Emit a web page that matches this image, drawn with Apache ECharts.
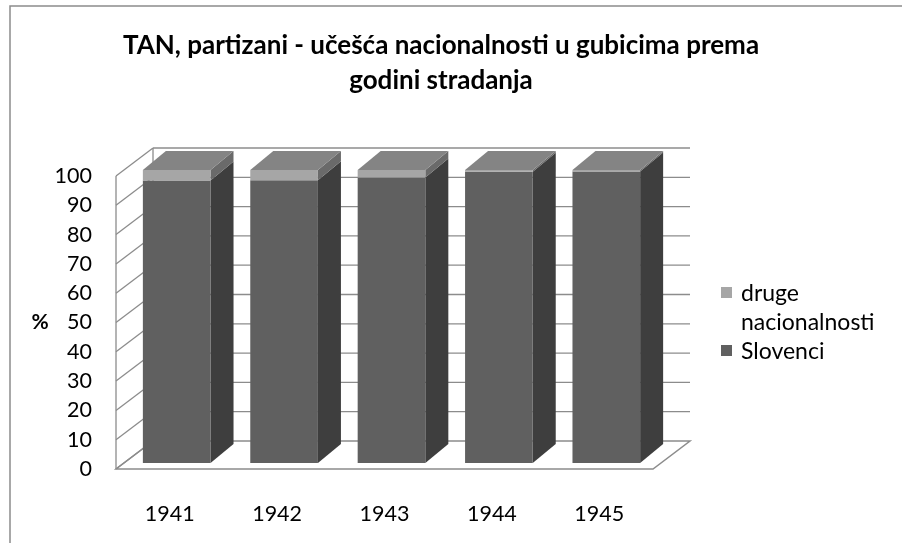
<!DOCTYPE html>
<html>
<head>
<meta charset="utf-8">
<script src="https://cdn.jsdelivr.net/npm/echarts@6/dist/echarts.min.js"></script>
<style>
  html, body { margin: 0; padding: 0; background: #fff; }
  #main { width: 902px; height: 543px; }
</style>
</head>
<body>
<div id="main"></div>
<script>
var years = ['1941', '1942', '1943', '1944', '1945'];
var slovenci = [96.4, 96.5, 97.4, 99.4, 99.5];
var druge = [3.6, 3.5, 2.6, 0.6, 0.5];
var yTicks = [0, 10, 20, 30, 40, 50, 60, 70, 80, 90, 100];

var FONT = 'Lato';
// 3D depth offsets in pixels
var WALL = [37, -28];
var BAR_FRONT = [7, -6];
var BAR_BACK = [30, -25];
var BAR_RATIO = 0.63;
var GRID_COLOR = '#8c8c8c';

var dom = document.getElementById('main');
var myChart = echarts.init(dom, null, { renderer: 'canvas' });

function renderWall(params, api) {
    var v = api.value(1);
    var cs = params.coordSys;
    var y = api.coord([0, v])[1];
    var left = cs.x;
    var right = cs.x + cs.width;
    var ls = { stroke: GRID_COLOR, lineWidth: 1.3, fill: null };
    var children = [];
    if (v === 0) {
        children.push({
            type: 'polygon',
            shape: { points: [[left, y], [right, y], [right + WALL[0], y + WALL[1]], [left + WALL[0], y + WALL[1]]] },
            style: { fill: '#fff', stroke: GRID_COLOR, lineWidth: 1.5 }
        });
        var yTop = api.coord([0, yTicks[yTicks.length - 1]])[1];
        children.push({
            type: 'line',
            shape: { x1: left, y1: y, x2: left, y2: yTop },
            style: ls
        });
        children.push({
            type: 'line',
            shape: { x1: left + WALL[0], y1: y + WALL[1], x2: left + WALL[0], y2: yTop + WALL[1] },
            style: ls
        });
    }
    children.push({
        type: 'line',
        shape: { x1: left, y1: y, x2: left + WALL[0], y2: y + WALL[1] },
        style: ls
    });
    if (v !== 0) {
        children.push({
            type: 'line',
            shape: { x1: left + WALL[0], y1: y + WALL[1], x2: right + WALL[0], y2: y + WALL[1] },
            style: ls
        });
    }
    return { type: 'group', children: children };
}

function barRenderer(front, side, top, isTop) {
    return function (params, api) {
        var i = api.value(0);
        var pLo = api.coord([i, api.value(1)]);
        var pHi = api.coord([i, api.value(2)]);
        var w = api.size([1, 0])[0] * BAR_RATIO;
        var x0 = pLo[0] - w / 2 + BAR_FRONT[0];
        var x1 = x0 + w;
        var yLo = pLo[1] + BAR_FRONT[1];
        var yHi = pHi[1] + BAR_FRONT[1];
        var dx = BAR_BACK[0] - BAR_FRONT[0];
        var dy = BAR_BACK[1] - BAR_FRONT[1];
        var children = [
            {
                type: 'polygon',
                shape: { points: [[x1, yHi], [x1 + dx, yHi + dy], [x1 + dx, yLo + dy], [x1, yLo]] },
                style: { fill: side }
            },
            {
                type: 'rect',
                shape: { x: x0, y: yHi, width: w, height: yLo - yHi },
                style: { fill: front }
            }
        ];
        if (isTop) {
            children.push({
                type: 'polygon',
                shape: { points: [[x0, yHi], [x0 + dx, yHi + dy], [x1 + dx, yHi + dy], [x1, yHi]] },
                style: { fill: top }
            });
        }
        return { type: 'group', children: children };
    };
}

var wallData = yTicks.map(function (v) { return [0, v]; });
var slovData = years.map(function (y, i) { return [i, 0, slovenci[i]]; });
var drugeData = years.map(function (y, i) { return [i, slovenci[i], slovenci[i] + druge[i]]; });

var option = {
    backgroundColor: '#fff',
    animation: false,
    title: {
        text: 'TAN, partizani - učešća nacionalnosti u gubicima prema\ngodini stradanja',
        left: 441,
        top: 28,
        padding: 0,
        textAlign: 'center',
        textStyle: {
            fontFamily: FONT,
            fontSize: 26,
            fontWeight: 'bold',
            color: '#000',
            lineHeight: 35
        }
    },
    grid: {
        left: 116,
        right: 249,
        top: 176,
        bottom: 74
    },
    xAxis: {
        type: 'category',
        data: years,
        axisLine: { show: false },
        axisTick: { show: false },
        splitLine: { show: false },
        axisLabel: {
            margin: 34,
            fontFamily: FONT,
            fontSize: 21.5,
            color: '#000'
        }
    },
    yAxis: {
        type: 'value',
        min: 0,
        max: 100,
        interval: 10,
        name: '%',
        nameLocation: 'middle',
        nameRotate: 0,
        nameGap: 66,
        nameTextStyle: {
            fontFamily: FONT,
            fontSize: 21,
            fontWeight: 'bold',
            color: '#000'
        },
        axisLine: { show: false },
        axisTick: { show: false },
        splitLine: { show: false },
        axisLabel: {
            margin: 24,
            fontFamily: FONT,
            fontSize: 21.5,
            color: '#000'
        }
    },
    graphic: [
        {
            type: 'rect',
            shape: { x: 10, y: 6, width: 1000, height: 1000 },
            style: { fill: null, stroke: '#8c8c8c', lineWidth: 1.5 },
            silent: true
        },
        {
            type: 'group',
            left: 721,
            top: 279,
            children: [
                { type: 'rect', shape: { x: 0, y: 8, width: 11, height: 11 }, style: { fill: '#a6a6a6' } },
                { type: 'text', x: 20, y: 0, style: { text: 'druge\nnacionalnosti', font: '23px ' + FONT, fill: '#000', lineHeight: 29 } },
                { type: 'rect', shape: { x: 0, y: 66, width: 11, height: 11 }, style: { fill: '#606060' } },
                { type: 'text', x: 20, y: 58, style: { text: 'Slovenci', font: '23px ' + FONT, fill: '#000', lineHeight: 29 } }
            ]
        }
    ],
    series: [
        {
            name: 'walls',
            type: 'custom',
            silent: true,
            z: 1,
            renderItem: renderWall,
            encode: { x: 0, y: 1 },
            data: wallData
        },
        {
            name: 'Slovenci',
            type: 'custom',
            z: 2,
            renderItem: barRenderer('#606060', '#3e3e3e', '#7e7e7e', false),
            encode: { x: 0, y: [1, 2] },
            data: slovData
        },
        {
            name: 'druge nacionalnosti',
            type: 'custom',
            z: 3,
            renderItem: barRenderer('#a6a6a6', '#6a6a6a', '#848484', true),
            encode: { x: 0, y: [1, 2] },
            data: drugeData
        }
    ]
};

myChart.setOption(option);
window.addEventListener('resize', myChart.resize);
</script>
</body>
</html>
